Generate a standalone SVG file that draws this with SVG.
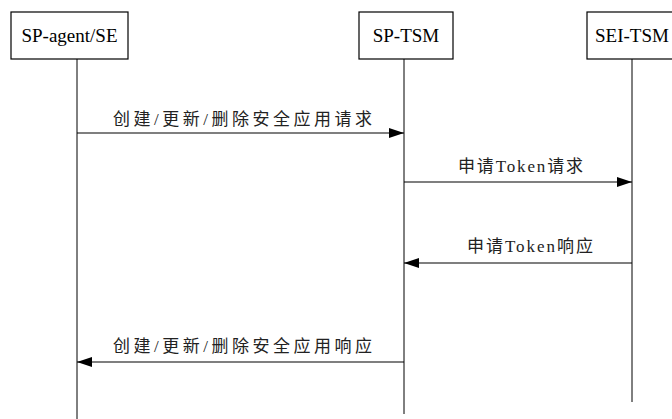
<svg xmlns="http://www.w3.org/2000/svg" width="672" height="419" viewBox="0 0 672 419">
<defs>
<marker id="ah" viewBox="0 0 15 10" refX="15" refY="5" markerWidth="15" markerHeight="10" markerUnits="userSpaceOnUse" orient="auto">
<path d="M0,0 L15,5 L0,10 Z" fill="#000"/>
</marker>
</defs>
<style>
.box{fill:#fff;stroke:#000;stroke-width:1.2}
.life{stroke:#000;stroke-width:1}
.msg{stroke:#000;stroke-width:1.2;fill:none;marker-end:url(#ah)}
.nl{font-family:"Liberation Serif","Times New Roman",serif;font-size:19px;fill:#000;text-anchor:middle}
.ml{font-family:"Liberation Serif","Noto Sans CJK SC",serif;font-size:17px;fill:#222}
</style>
<rect width="672" height="419" fill="#fff"/>
<g id="node-spagent">
<rect class="box" x="11" y="12" width="117" height="47"/>
<text class="nl" x="69.5" y="42">SP-agent/SE</text>
</g>
<g id="node-sptsm">
<rect class="box" x="359" y="12" width="94" height="47"/>
<text class="nl" x="406" y="42">SP-TSM</text>
</g>
<g id="node-seitsm">
<rect class="box" x="587" y="12" width="100" height="47"/>
<text class="nl" x="632" y="42">SEI-TSM</text>
</g>
<g id="connectors">
<line class="life" x1="77" y1="59" x2="77" y2="419"/>
<line class="life" x1="404" y1="59" x2="404" y2="414"/>
<line class="life" x1="632" y1="59" x2="632" y2="402"/>
<line class="msg" x1="77" y1="133" x2="404" y2="133"/>
<line class="msg" x1="404" y1="182" x2="632" y2="182"/>
<line class="msg" x1="632" y1="263" x2="404" y2="263"/>
<line class="msg" x1="404" y1="362" x2="77" y2="362"/>
<text class="ml" x="113" y="125" textLength="259" lengthAdjust="spacing">创建/更新/删除安全应用请求</text>
<text class="ml" x="458" y="172" textLength="125" lengthAdjust="spacing">申请Token请求</text>
<text class="ml" x="467" y="252" textLength="126" lengthAdjust="spacing">申请Token响应</text>
<text class="ml" x="113" y="352" textLength="259" lengthAdjust="spacing">创建/更新/删除安全应用响应</text>
</g>
</svg>
